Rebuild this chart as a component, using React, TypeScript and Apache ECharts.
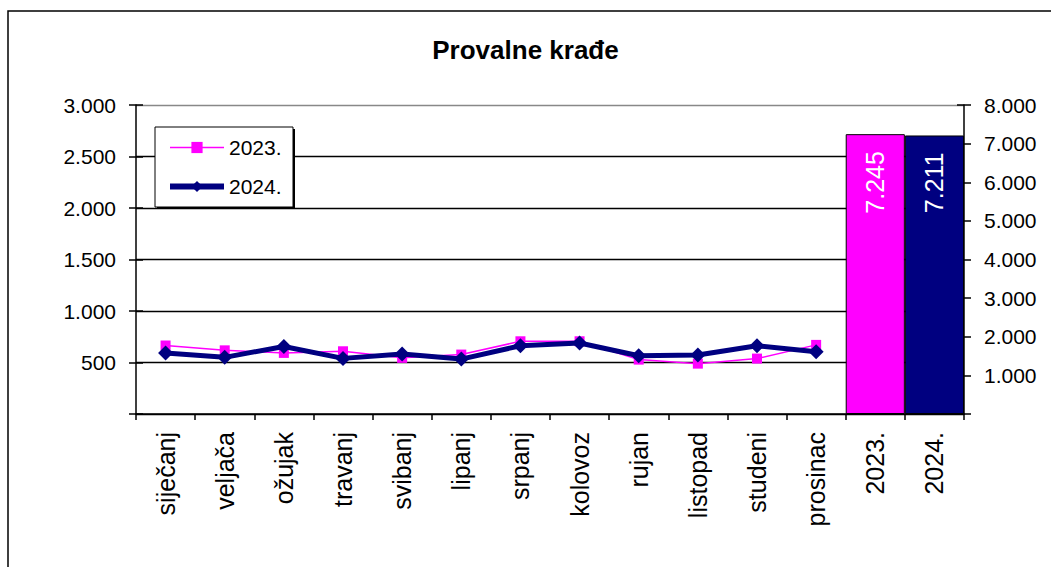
import React, { useEffect, useRef } from "react";
import * as echarts from "echarts";

const categories = ["siječanj", "veljača", "ožujak", "travanj", "svibanj", "lipanj", "srpanj", "kolovoz", "rujan", "listopad", "studeni", "prosinac", "2023.", "2024."];
const values2023 = [665, 618, 593, 609, 545, 577, 706, 706, 528, 489, 538, 671, null, null];
const values2024 = [592, 550, 656, 540, 582, 533, 663, 689, 566, 572, 663, 605, null, null];
const totals = [null, null, null, null, null, null, null, null, null, null, null, null, 7245, 7211];
const totalColors = ["#FF00FF", "#000080"];

const fmt = (v: number) => {
  if (v === 0) return "";
  if (v >= 1000) {
    const t = Math.floor(v / 1000);
    const r = String(Math.round(v % 1000)).padStart(3, "0");
    return t + "." + r;
  }
  return String(v);
};

export default function App() {
  const ref = useRef<HTMLDivElement>(null);
  useEffect(() => {
    document.body.style.margin = "0";
    const chart = echarts.init(ref.current!, null, { renderer: "svg" });
    const font = "Liberation Sans, Arial, sans-serif";
    const lastIdx = 12;
    chart.setOption({
      animation: false,
      backgroundColor: "#fff",
      textStyle: { fontFamily: font },
      title: {
        text: "Provalne krađe",
        left: "center",
        top: 37,
        textStyle: { fontFamily: font, fontSize: 26, fontWeight: "bold", color: "#000" },
        padding: 0,
      },
      grid: { left: 136, right: 87, top: 105, bottom: 153, containLabel: false },
      legend: {
        orient: "vertical",
        left: 167,
        top: 137,
        itemGap: 18,
        itemWidth: 54,
        itemHeight: 14,
        padding: 0,
        z: 20,
        textStyle: { fontFamily: font, fontSize: 21, color: "#000" },
        data: [
          { name: "2023.", lineStyle: { width: 1.5, color: "#FF00FF" } },
          { name: "2024.", lineStyle: { width: 6, color: "#000080" } },
        ],
      },
      graphic: [
        { type: "rect", shape: { x: 8, y: 11, width: 1100, height: 600 }, style: { fill: "none", stroke: "#000", lineWidth: 1.5 }, z: 15 },
        { type: "rect", shape: { x: 157, y: 129, width: 138, height: 80 }, style: { fill: "#000" }, z: 15 },
        { type: "rect", shape: { x: 155, y: 127, width: 138, height: 80 }, style: { fill: "#fff", stroke: "#000", lineWidth: 1 }, z: 16 },
      ],
      xAxis: {
        type: "category",
        data: categories,
        boundaryGap: true,
        axisLine: { lineStyle: { color: "#000", width: 1.5 } },
        axisTick: { show: true, alignWithLabel: false, length: 6, lineStyle: { color: "#000", width: 1.5 } },
        axisLabel: { rotate: 90, fontSize: 25, color: "#000", margin: 18, fontFamily: font, interval: 0 },
        splitLine: { show: false },
      },
      yAxis: [
        {
          type: "value",
          position: "left",
          min: 0,
          max: 3000,
          interval: 500,
          axisLine: { show: true, lineStyle: { color: "#000", width: 1.5 } },
          axisTick: { show: true, length: 7, lineStyle: { color: "#000", width: 1.5 } },
          axisLabel: { fontSize: 21, color: "#000", margin: 20, fontFamily: font, formatter: (v: number) => fmt(v) },
          splitLine: { show: true, lineStyle: { color: ["#000", "#000", "#000", "#000", "#000", "#000", "#888"], width: 1.3 } },
        },
        {
          type: "value",
          position: "right",
          min: 0,
          max: 8000,
          interval: 1000,
          axisLine: { show: true, lineStyle: { color: "#000", width: 1.5 } },
          axisTick: { show: true, length: 7, lineStyle: { color: "#000", width: 1.5 } },
          axisLabel: { fontSize: 21, color: "#000", margin: 20, fontFamily: font, formatter: (v: number) => fmt(v) },
          splitLine: { show: false },
        },
        {
          type: "value",
          position: "left",
          min: 0,
          max: 3000,
          interval: 500,
          axisLine: { show: false },
          axisTick: { show: true, inside: true, length: 7, lineStyle: { color: "#000", width: 1.5 } },
          axisLabel: { show: false },
          splitLine: { show: false },
        },
        {
          type: "value",
          position: "right",
          min: 0,
          max: 8000,
          interval: 1000,
          axisLine: { show: false },
          axisTick: { show: true, inside: true, length: 7, lineStyle: { color: "#000", width: 1.5 } },
          axisLabel: { show: false },
          splitLine: { show: false },
        },
      ],
      series: [
        {
          name: "totals",
          type: "bar",
          yAxisIndex: 1,
          barWidth: "100%",
          barCategoryGap: 0,
          z: 3,
          data: totals.map((v, i) =>
            v === null ? null : { value: v, itemStyle: { color: totalColors[i - lastIdx], borderColor: "#000", borderWidth: 1 } }
          ),
          label: {
            show: true,
            position: "insideTop",
            rotate: 90,
            align: "right",
            verticalAlign: "middle",
            distance: 17,
            color: "#fff",
            fontSize: 25,
            fontFamily: font,
            formatter: (p: any) => fmt(p.value),
          },
        },
        {
          name: "2023.",
          type: "line",
          yAxisIndex: 0,
          data: values2023,
          color: "#FF00FF",
          symbol: "rect",
          symbolSize: 10,
          lineStyle: { color: "#FF00FF", width: 1.5 },
          itemStyle: { color: "#FF00FF" },
          z: 4,
        },
        {
          name: "2024.",
          type: "line",
          yAxisIndex: 0,
          data: values2024,
          color: "#000080",
          symbol: "diamond",
          symbolSize: 15,
          lineStyle: { color: "#000080", width: 5 },
          itemStyle: { color: "#000080" },
          z: 5,
        },
      ],
    });
    return () => chart.dispose();
  }, []);
  return <div ref={ref} style={{ width: 1051, height: 567 }} />;
}
